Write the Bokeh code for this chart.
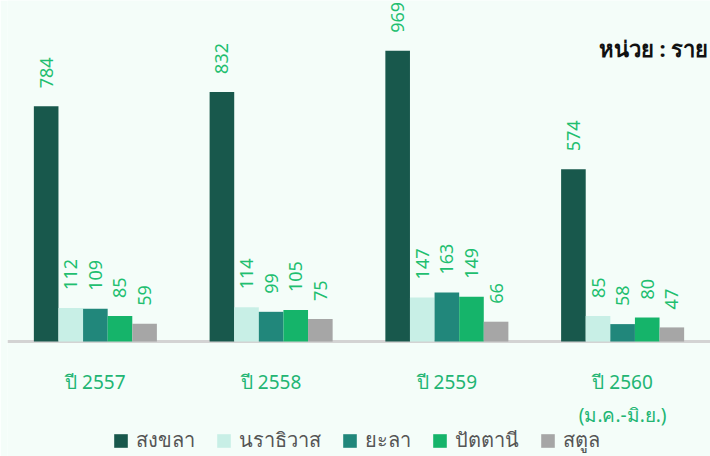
from bokeh.plotting import figure
from bokeh.models import ColumnDataSource, FactorRange, Legend, LegendItem, Label, Span
from bokeh.transform import dodge
from bokeh.core.properties import value
from bokeh.embed import file_html
from bokeh.resources import INLINE
import math

years = ["ปี 2557", "ปี 2558", "ปี 2559", "ปี 2560"]
year_labels = ["ปี 2557", "ปี 2558", "ปี 2559", "ปี 2560\n(ม.ค.-มิ.ย.)"]
series_names = ["สงขลา", "นราธิวาส", "ยะลา", "ปัตตานี", "สตูล"]
songkhla = [784, 832, 969, 574]
narathiwat = [112, 114, 147, 85]
yala = [109, 99, 163, 58]
pattani = [85, 105, 149, 80]
satun = [59, 75, 66, 47]
colors = ["#18584c", "#c8efe6", "#21877b", "#15b46a", "#a6a6a6"]
unit_text = "หน่วย : ราย"

series = [songkhla, narathiwat, yala, pattani, satun]
keys = ["s0", "s1", "s2", "s3", "s4"]
data = {"year": years, "label": year_labels, "zero": [0] * len(years)}
for k, s in zip(keys, series):
    data[k] = s
    data[k + "_t"] = [str(v) for v in s]
src = ColumnDataSource(data)

BG = "#f4fdf9"
FONT = "Noto Sans"
p = figure(width=710, height=456, x_range=FactorRange(*years, range_padding=0),
           y_range=(-383.3, 1136.7), output_backend="svg", toolbar_location=None,
           background_fill_color=BG, border_fill_color=BG,
           min_border_left=7, min_border_right=0, min_border_top=0, min_border_bottom=0)
p.outline_line_color = None
p.xgrid.visible = False
p.ygrid.visible = False
p.xaxis.visible = False
p.yaxis.visible = False

p.add_layout(Span(location=0, dimension="width", line_color="#d3d3d3", line_width=3,
                  level="underlay"))

bw = 0.14
offsets = [-0.28, -0.14, 0.0, 0.14, 0.28]
items = []
for k, off, c, name in zip(keys, offsets, colors, series_names):
    r = p.vbar(x=dodge("year", off, range=p.x_range), top=k, width=bw, source=src,
               fill_color=c, line_color=None)
    p.text(x=dodge("year", off, range=p.x_range), y=k, text=k + "_t", source=src,
           angle=math.pi / 2, text_align="left", text_baseline="middle",
           y_offset=-18, text_color="#1fbf70", text_font_size="18px",
           text_font=value(FONT))
    items.append(LegendItem(label=name, renderers=[r]))

# category labels under the baseline
p.text(x="year", y="zero", text="label", source=src, text_align="center",
       text_baseline="top", y_offset=27, text_color="#22b573", text_font_size="19px",
       text_font=value(FONT), text_line_height=1.3)

legend = Legend(items=items, orientation="horizontal", location=(105, 0),
                glyph_width=17, glyph_height=17, label_standoff=7, spacing=20,
                label_text_font_size="20px", label_text_color="#555555",
                label_text_font=FONT, background_fill_alpha=0, border_line_color=None,
                padding=0, margin=0)
p.add_layout(legend, "center")

p.add_layout(Label(x=4.0, y=977, text=unit_text, text_align="right", text_baseline="middle",
                   text_font_size="22px", text_font=FONT, text_color="#111111",
                   text_font_style="bold", x_offset=-2))

open("out.html", "w").write(file_html(p, INLINE))
